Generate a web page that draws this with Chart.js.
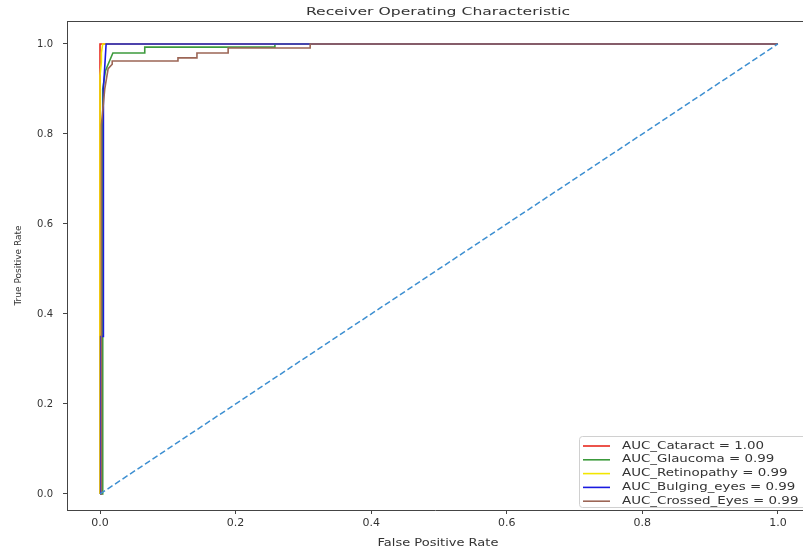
<!DOCTYPE html>
<html>
<head>
<meta charset="utf-8">
<script src="https://cdn.jsdelivr.net/npm/chart.js@4"></script>
<style>
  html, body { margin: 0; padding: 0; background: #fff; }
  #wrap { width: 803px; height: 550px; }
</style>
</head>
<body>
<div id="wrap"><canvas id="roc"></canvas></div>
<script>
// ROC curves
const classNames = ["Cataract", "Glaucoma", "Retinopathy", "Bulging_eyes", "Crossed_Eyes"];
const aucValues = ["1.00", "0.99", "0.99", "0.99", "0.99"];
const lineColors = ["#e8281e", "#3c9a3c", "#f2e600", "#1a1ae0", "#9c6656"];

const fprCataract = [0, 0, 1];
const tprCataract = [0, 1, 1];

const fprGlaucoma = [0, 0.004, 0.004, 0.008, 0.012, 0.019, 0.066, 0.066, 0.258, 0.258, 1];
const tprGlaucoma = [0, 0, 0.90, 0.94, 0.955, 0.98, 0.98, 0.993, 0.993, 1, 1];

const fprRetinopathy = [0, 0, 0.002, 0.002, 0.004, 1];
const tprRetinopathy = [0, 0.93, 0.96, 0.98, 1, 1];

const fprBulging = [0, 0.001, 0.001, 0.005, 0.005, 0.009, 1];
const tprBulging = [0, 0, 0.35, 0.35, 0.90, 1, 1];

const fprCrossed = [0, 0.002, 0.002, 0.007, 0.012, 0.018, 0.018, 0.115, 0.115, 0.143, 0.143, 0.189, 0.189, 0.31, 0.31, 1];
const tprCrossed = [0, 0, 0.82, 0.90, 0.945, 0.955, 0.962, 0.962, 0.969, 0.969, 0.98, 0.98, 0.991, 0.991, 1, 1];

const chanceX = [0, 1];
const chanceY = [0, 1];

const tickValues = [0, 0.2, 0.4, 0.6, 0.8, 1.0];

function pts(xs, ys) {
    return xs.map((x, i) => ({ x: x, y: ys[i] }));
}

const curves = [
    pts(fprCataract, tprCataract),
    pts(fprGlaucoma, tprGlaucoma),
    pts(fprRetinopathy, tprRetinopathy),
    pts(fprBulging, tprBulging),
    pts(fprCrossed, tprCrossed)
];

const datasets = curves.map((c, i) => ({
    label: "AUC_" + classNames[i] + " = " + aucValues[i],
    data: c,
    borderColor: lineColors[i],
    borderWidth: 1.6,
    showLine: true,
    pointRadius: 0,
    tension: 0,
    order: 10 - i
}));
datasets.push({
    label: "chance",
    data: pts(chanceX, chanceY),
    borderColor: "#3d8fd1",
    borderWidth: 1.5,
    borderDash: [6, 3],
    showLine: true,
    pointRadius: 0,
    order: 0,
    isChance: true
});

// the source image is stretched sideways, so its text is too
function wideText(ctx, text, x, y, sx, align) {
    ctx.save();
    ctx.translate(x, y);
    ctx.scale(sx, 1);
    ctx.textAlign = align;
    ctx.fillText(text, 0, 0);
    ctx.restore();
}

// frame, title, x label and the in-plot legend
const framePlugin = {
    id: "frame",
    afterDraw(chart) {
        const ctx = chart.ctx;
        const a = chart.chartArea;
        ctx.save();
        ctx.strokeStyle = "#444";
        ctx.lineWidth = 1;
        ctx.beginPath();
        ctx.moveTo(a.left, a.top + 0.5);
        ctx.lineTo(a.right, a.top + 0.5);
        ctx.stroke();

        ctx.fillStyle = "#333";
        ctx.textBaseline = "middle";
        ctx.font = "11px 'DejaVu Sans'";
        wideText(ctx, "Receiver Operating Characteristic", 438, 12, 1.42, "center");
        ctx.font = "10px 'DejaVu Sans'";
        wideText(ctx, "False Positive Rate", 438, 543, 1.3, "center");

        // legend
        const bx = 579, by = 436, bw = 240, bh = 71;
        ctx.fillStyle = "rgba(255,255,255,0.85)";
        ctx.strokeStyle = "#d0d0d0";
        ctx.beginPath();
        ctx.roundRect(bx + 0.5, by + 0.5, bw, bh, 3);
        ctx.fill();
        ctx.stroke();
        ctx.font = "10px 'DejaVu Sans'";
        chart.data.datasets.forEach((ds, i) => {
            if (ds.isChance) return;
            const y = 446 + i * 13.8;
            ctx.strokeStyle = ds.borderColor;
            ctx.lineWidth = 1.6;
            ctx.beginPath();
            ctx.moveTo(583, y);
            ctx.lineTo(610, y);
            ctx.stroke();
            ctx.fillStyle = "#333";
            wideText(ctx, ds.label, 622, y, 1.34, "left");
        });
        ctx.restore();
    }
};

new Chart(document.getElementById("roc"), {
    type: "scatter",
    data: { datasets: datasets },
    options: {
        responsive: true,
        maintainAspectRatio: false,
        animation: false,
        layout: { padding: { top: 21, left: 0, right: 0, bottom: 0 } },
        plugins: {
            legend: { display: false },
            tooltip: { enabled: false }
        },
        scales: {
            x: {
                type: "linear",
                min: -0.0487,
                max: 1.037,
                afterBuildTicks(scale) {
                    scale.ticks = tickValues.map(v => ({ value: v }));
                },
                afterFit(scale) { scale.height = 40; },
                grid: { drawOnChartArea: false, drawTicks: true, tickLength: 4, color: "#444" },
                border: { display: true, color: "#444", width: 1 },
                ticks: {
                    color: "#333",
                    font: { family: "DejaVu Sans", size: 11 },
                    padding: 3,
                    maxRotation: 0,
                    callback: v => v.toFixed(1)
                }
            },
            y: {
                type: "linear",
                min: -0.0356,
                max: 1.051,
                afterBuildTicks(scale) {
                    scale.ticks = tickValues.map(v => ({ value: v }));
                },
                afterFit(scale) { scale.width = 67; },
                grid: { drawOnChartArea: false, drawTicks: true, tickLength: 4, color: "#444" },
                border: { display: true, color: "#444", width: 1 },
                ticks: {
                    color: "#333",
                    font: { family: "DejaVu Sans", size: 10 },
                    padding: 10,
                    callback: v => v.toFixed(1)
                },
                title: {
                    display: true,
                    text: "True Positive Rate",
                    color: "#333",
                    font: { family: "DejaVu Sans", size: 9 },
                    padding: { top: 13, bottom: 0 }
                }
            }
        }
    },
    plugins: [framePlugin]
});
</script>
</body>
</html>
